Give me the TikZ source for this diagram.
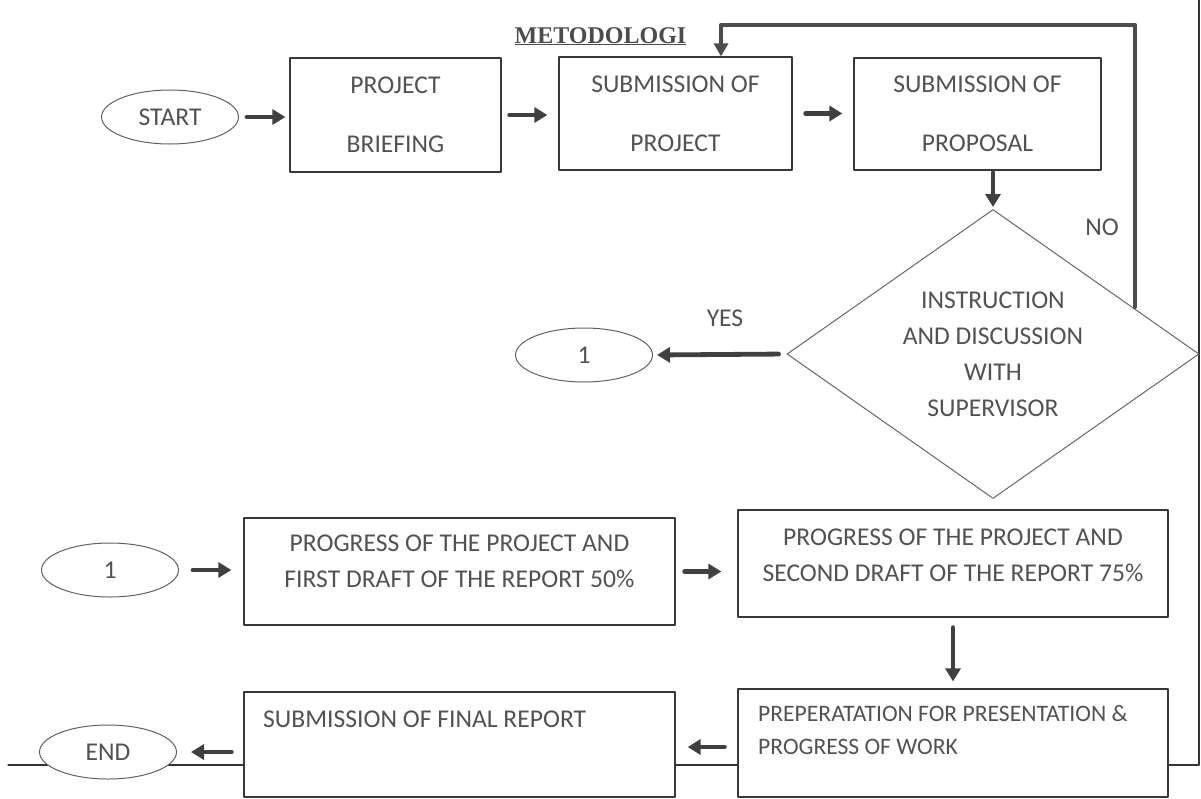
\documentclass[tikz,border=0pt]{standalone}
\usepackage{fontspec}
\setmainfont{Carlito}
\newfontfamily\titlefont{Liberation Serif}
\usepackage{tikz}
\usetikzlibrary{arrows.meta,shapes.geometric}

\tikzset{
  txt/.style={text=black!68,inner sep=0pt,font=\fontsize{25.6}{36}\selectfont},
  box/.style={draw=black!78,line width=1.3pt,fill=white,inner sep=0pt},
  oval/.style={ellipse,draw=black!62,line width=1pt,fill=white,minimum width=137pt,minimum height=54pt},
  arr/.style={draw=black!75,line width=4.8pt,-{Triangle[length=13pt,width=15pt]}},
  noline/.style={draw=black!70,line width=4pt,-{Triangle[length=13pt,width=14pt]}}
}

\begin{document}
\begin{tikzpicture}[line cap=round,line join=round,x=1pt,y=-1pt]
				\useasboundingbox (0,0) rectangle (1201,798);
				% page frame
				\draw[black!80,line width=1.2pt] (8,765) -- (1199,765) -- (1199,0);

				\node[txt,anchor=base,text=black!70,font=\titlefont\bfseries\fontsize{24}{24}\selectfont] (title) at (600.5,43) {\underline{METODOLOGI}};

				\node[oval,txt] (start) at (170,117) {START};
				\node[box,txt,align=center,minimum width=211pt,minimum height=114pt] (brief) at (395.5,115) {PROJECT\\[23pt]BRIEFING};
				\node[box,txt,align=center,minimum width=233pt,minimum height=113pt] (proj) at (675.5,113.5) {SUBMISSION OF\\[23pt]PROJECT};
				\node[box,txt,align=center,minimum width=247pt,minimum height=112pt] (prop) at (977.5,114) {SUBMISSION OF\\[23pt]PROPOSAL};
				\node[diamond,draw=black!60,line width=1pt,fill=white,shape aspect=1.43,minimum width=412pt,minimum height=289pt,txt,align=center] (check) at (993,354) {INSTRUCTION\\AND DISCUSSION\\WITH\\SUPERVISOR};
				\node[oval,txt] (conn1) at (584,355) {1};
				\node[txt] (yes) at (725,318) {YES};
				\node[txt] (no) at (1102,227) {NO};
				\coordinate (back) at (1135,307);

				\draw[arr,shorten <=8pt,shorten >=4pt] (start.east) -- (start.east -| brief.west);
				\draw[arr,shorten <=8pt,shorten >=11pt] (brief.east) -- (brief.east -| proj.west);
				\draw[arr,shorten <=13pt,shorten >=11pt] (proj.east) -- (proj.east -| prop.west);
				\draw[arr,shorten <=2pt,shorten >=2pt] (prop.south -| check.north) -- (check.north);
				\draw[arr,shorten <=8pt,shorten >=4pt] (check.west) -- (conn1.east);
				\draw[noline] (back) -- (1135,25) -| ([xshift=45.5pt]proj.north);

				\node[oval,txt] (conn2) at (110,570) {1};
				\node[box,minimum width=431pt,minimum height=107pt] (first) at (459.5,571.5) {};
				\node[txt,align=center] (firsttxt) at (459.5,561.5) {PROGRESS OF THE PROJECT AND\\FIRST DRAFT OF THE REPORT 50\%};
				\node[box,minimum width=430pt,minimum height=107pt] (second) at (953,563.5) {};
				\node[txt,align=center] (secondtxt) at (953,555) {PROGRESS OF THE PROJECT AND\\SECOND DRAFT OF THE REPORT 75\%};
				\node[box,minimum width=430pt,minimum height=108pt] (prep) at (953,743) {};
				\node[txt,anchor=west,align=left,font=\fontsize{23.6}{33}\selectfont] (preptxt) at (758,730.5) {PREPERATATION FOR PRESENTATION \&\\PROGRESS OF WORK};
				\node[box,minimum width=431pt,minimum height=105pt] (final) at (459.5,744.5) {};
				\node[txt,anchor=west] (finaltxt) at (263,719) {SUBMISSION OF FINAL REPORT};
				\node[oval,txt] (end) at (108,752) {END};

				\draw[arr,shorten <=14pt,shorten >=12pt] (conn2.east) -- (conn2.east -| first.west);
				\draw[arr,shorten <=9pt,shorten >=16pt] (first.east) -- (first.east -| second.west);
				\draw[arr,shorten <=10pt,shorten >=7pt] (second.south) -- (prep.north);
				\draw[arr,shorten <=13pt,shorten >=12pt] ([yshift=-4pt]prep.west) -- ([yshift=-4pt]prep.west -| final.east);
				\draw[arr,shorten <=12pt,shorten >=14pt] (final.west |- end.east) -- (end.east);
\end{tikzpicture}
\end{document}
